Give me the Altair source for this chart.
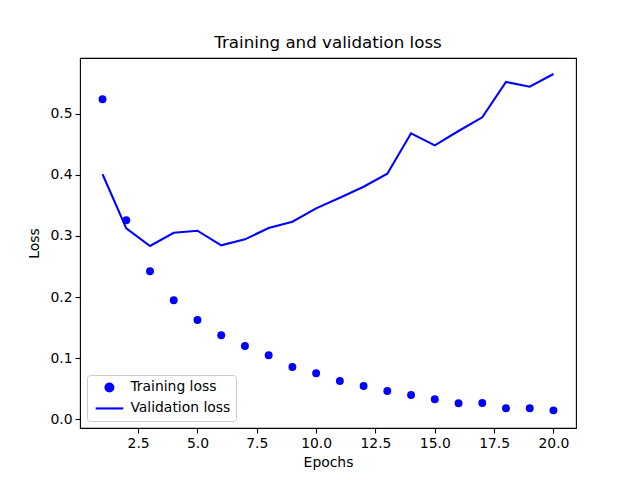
import altair as alt
import pandas as pd

epochs = list(range(1, 21))
train_loss = [0.5232, 0.3255, 0.2422, 0.1948, 0.1626, 0.1376, 0.1201, 0.1049, 0.0858, 0.0755,
              0.0629, 0.0547, 0.0466, 0.0400, 0.0330, 0.0265, 0.0270, 0.0183, 0.0183, 0.0150]
val_loss = [0.4007, 0.3124, 0.2835, 0.3052, 0.3085, 0.2846, 0.2944, 0.3129, 0.3232, 0.3450,
            0.3624, 0.3804, 0.4016, 0.4676, 0.4480, 0.4714, 0.4938, 0.5515, 0.5438, 0.5645]
series_names = ["Training loss", "Validation loss"]
x_ticks = [2.5, 5.0, 7.5, 10.0, 12.5, 15.0, 17.5, 20.0]
y_ticks = [0.0, 0.1, 0.2, 0.3, 0.4, 0.5]

df = pd.concat([
    pd.DataFrame({"epoch": epochs, "loss": train_loss, "series": series_names[0]}),
    pd.DataFrame({"epoch": epochs, "loss": val_loss, "series": series_names[1]}),
])

FONT = "DejaVu Sans"

x_enc = alt.X("epoch:Q", scale=alt.Scale(domain=[0.05, 20.95], nice=False, zero=False),
              axis=alt.Axis(values=x_ticks, format=".1f", title="Epochs"))
y_enc = alt.Y("loss:Q", scale=alt.Scale(domain=[-0.0139, 0.5907], nice=False, zero=False),
              axis=alt.Axis(values=y_ticks, format=".1f", title="Loss"))

legend = alt.Legend(title=None, orient="none", legendX=7, legendY=317,
                    strokeColor="#cccccc", fillColor="white", cornerRadius=3,
                    padding=5.5, rowPadding=4, labelFontSize=13.9, labelFont=FONT,
                    labelColor="black", symbolSize=62, symbolStrokeWidth=2.1,
                    symbolOffset=10, labelOffset=14)

color_enc = alt.Color("series:N", scale=alt.Scale(domain=series_names, range=["blue", "blue"]),
                      legend=legend)
shape_enc = alt.Shape("series:N",
                      scale=alt.Scale(domain=series_names, range=["circle", "M-3.5,0L3.5,0"]),
                      legend=legend)

points = alt.Chart(df).transform_filter(
    alt.datum.series == series_names[0]
).mark_point(filled=True, size=62, opacity=1).encode(
    x=x_enc, y=y_enc, color=color_enc, shape=shape_enc
)

line = alt.Chart(df).transform_filter(
    alt.datum.series == series_names[1]
).mark_line(strokeWidth=2.08).encode(
    x=x_enc, y=y_enc, color=color_enc
)

chart = alt.layer(points, line).properties(
    width=496, height=370,
    title=alt.Title("Training and validation loss", fontSize=16.7, fontWeight="normal",
                    font=FONT, color="black", offset=6),
    autosize=alt.AutoSizeParams(type="none"),
    padding={"left": 72, "top": 50, "right": 56, "bottom": 44},
).configure_view(
    stroke="black", strokeWidth=1.1
).configure_axis(
    grid=False, domain=False, tickColor="black", tickSize=5, tickWidth=1.1,
    labelFont=FONT, labelFontSize=13.9, labelColor="black", labelPadding=3,
    titleFont=FONT, titleFontSize=13.9, titleColor="black", titleFontWeight="normal",
).configure_axisX(titlePadding=6).configure_axisY(titlePadding=8)

chart.save("out.html", embed_options={"renderer": "svg", "actions": False})
